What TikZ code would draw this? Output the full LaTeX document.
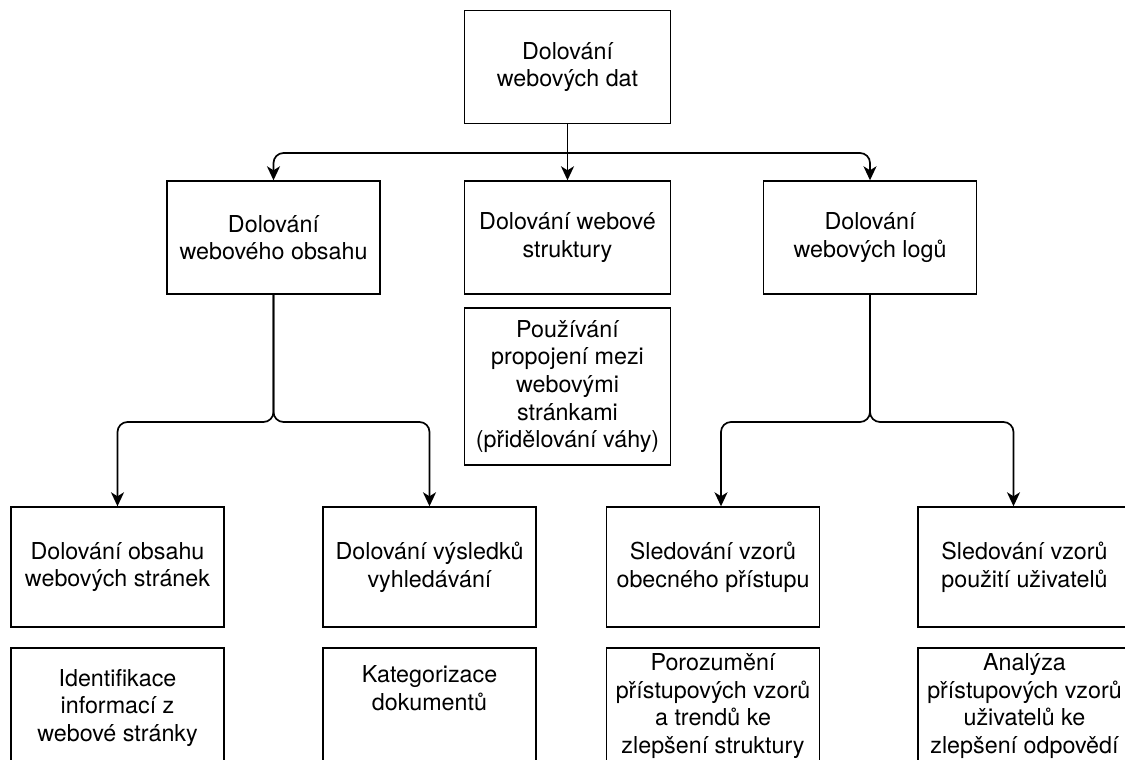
\documentclass[tikz,border=0pt]{standalone}
\usepackage{fontspec}
\setmainfont{TeX Gyre Heros}
\usetikzlibrary{arrows.meta}
\begin{document}
\begin{tikzpicture}[x=1pt,y=-1pt,
  box/.style={draw=black,line width=1.4pt,fill=white,align=center,inner sep=0pt,
    font=\fontsize{23.3}{27.6}\selectfont},
  lvlbox/.style={box,minimum width=213pt,minimum height=113pt},
  leafbox/.style={box,minimum width=213pt,minimum height=120pt},
  txt/.style={align=center,inner sep=0pt,font=\fontsize{23.3}{27.6}\selectfont},
  link/.style={line width=1.7pt,draw=black,-{Stealth[length=14pt,width=13pt,inset=4pt]}}]
\useasboundingbox (0,0) rectangle (1125,760);
\clip (0,0) rectangle (1125,760);

% root and first level
\node[box,minimum width=206pt,minimum height=113pt] (root) at (567.5,67) {Dolování\\webových dat};
\node[lvlbox] (content) at (273.5,237.5) {Dolování\\webového obsahu};
\node[box,minimum width=206pt,minimum height=113pt] (structure) at (567.5,237.5) {Dolování webové\\struktury};
\node[lvlbox] (logs) at (870,237.5) {Dolování\\webových logů};
\node[box,minimum width=206pt,minimum height=157pt] (links) at (567.5,386.5)
  {Používání\\propojení mezi\\webovými\\stránkami\\(přidělování váhy)};

% second level
\node[leafbox] (pages) at (117.5,567) {Dolování obsahu\\webových stránek};
\node[leafbox] (search) at (429.5,567) {Dolování výsledků\\vyhledávání};
\node[leafbox] (general) at (713,567) {Sledování vzorů\\obecného přístupu};
\node[leafbox] (usage) at (1024.5,567) {Sledování vzorů\\použití uživatelů};

% descriptions under the second level
\node[leafbox] (pagesd) at (117.5,708) {};
\node[txt] at (pagesd.center) {Identifikace\\informací z\\webové stránky};
\node[leafbox] (searchd) at (429.5,708) {};
\node[txt] at ([yshift=20pt]searchd.center) {Kategorizace\\dokumentů};
\node[leafbox] (generald) at (713,708) {};
\node[txt] at ([yshift=2pt]generald.center) {Porozumění\\přístupových vzorů\\a trendů ke\\zlepšení struktury};
\node[leafbox] (usaged) at (1024.5,708) {};
\node[txt] at ([yshift=2pt]usaged.center) {Analýza\\přístupových vzorů\\uživatelů ke\\zlepšení odpovědí};

% connectors from the root
\coordinate (hub) at (567.5,153);
\draw[link] (root) -- (structure);
\draw[link,rounded corners=10pt] (hub) -| (content.north);
\draw[link,rounded corners=10pt] (hub) -| (logs.north);

% connectors to the second level
\coordinate (jc) at (273.5,422);
\coordinate (jl) at (870,422);
\draw[link,rounded corners=10pt] (content.south) |- (pages.north |- jc) -- (pages.north);
\draw[link,rounded corners=10pt] (content.south) |- (search.north |- jc) -- (search.north);
\draw[link,rounded corners=10pt] (logs.south) |- ([xshift=8pt]general.north |- jl) -- ([xshift=8pt]general.north);
\draw[link,rounded corners=10pt] (logs.south) |- ([xshift=-11pt]usage.north |- jl) -- ([xshift=-11pt]usage.north);
\end{tikzpicture}
\end{document}
